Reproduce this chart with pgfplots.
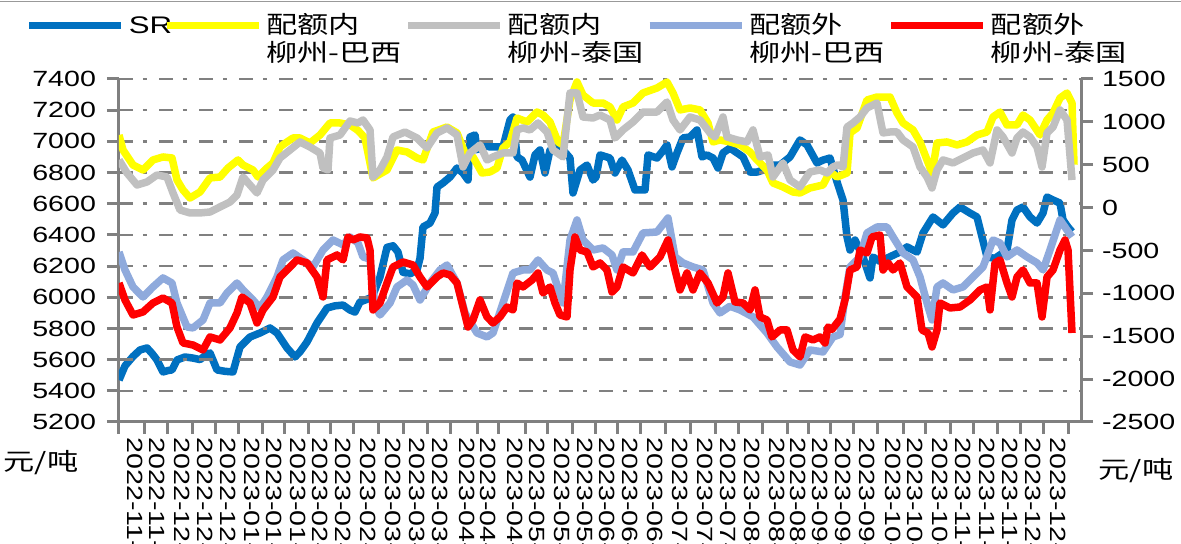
\documentclass[border=0pt]{standalone}
\usepackage{pgfplots}
\pgfplotsset{compat=1.18}
\usepackage{fontspec}
\setmainfont{Liberation Sans}[FakeStretch=1.3]
\newfontfamily\cjk{Noto Sans CJK SC}[FakeStretch=1.3]
\definecolor{srblue}{RGB}{0,112,192}
\definecolor{inyel}{RGB}{255,255,0}
\definecolor{ingray}{RGB}{192,192,192}
\definecolor{outblue}{RGB}{143,170,220}
\definecolor{outred}{RGB}{255,0,0}
\definecolor{axgray}{RGB}{128,128,128}
\pgfplotsset{
  /pgf/number format/assume math mode=true,
  /pgf/number format/1000 sep={},
  common/.style={
    at={(59.5pt,61pt)}, anchor=south west,
    scale only axis, width=481pt, height=171.5pt,
    xmin=119, xmax=1081,
    axis line style={draw=axgray, line width=1.5pt, -},
    tick align=outside, major tick length=6pt,
    tick style={draw=axgray, line width=1.5pt},
    ticklabel style={font=\fontsize{11}{13}\selectfont},
  },
  ser/.style={line width=3.75pt, line join=round},
}
\tikzset{gridln/.style={draw=axgray, line width=1.3pt, dash pattern=on 7pt off 5pt on 2pt off 6pt}}
\newcommand{\twol}[2]{\makebox[69pt][l]{\cjk\begin{tabular}[t]{@{}l@{}}#1\\#2\end{tabular}}}
\begin{document}
\begin{tikzpicture}
% x tick labels (drawn first)
\begin{axis}[common,
  ymin=0, ymax=1, hide y axis,
  axis x line*=bottom, x axis line style={draw=none},
  tick style={draw=none}, major tick length=0pt,
  xtick={109,135,157,182,205,228,252,274,298,320,343,368,393,417,440,467,488,515,537,562,585,607,630,655,680,705,728,752,777,798,820,843,867,893,915,940,963,987,1010,1033,1058},
  xticklabels={2022-11-01,2022-11-11,2022-11-21,2022-12-01,2022-12-11,2022-12-21,2023-01-01,2023-01-11,2023-01-21,2023-02-01,2023-02-11,2023-02-21,2023-03-01,2023-03-11,2023-03-21,2023-04-01,2023-04-11,2023-04-21,2023-05-01,2023-05-11,2023-05-21,2023-06-01,2023-06-11,2023-06-21,2023-07-01,2023-07-11,2023-07-21,2023-08-01,2023-08-11,2023-08-21,2023-09-01,2023-09-11,2023-09-21,2023-10-01,2023-10-11,2023-10-21,2023-11-01,2023-11-11,2023-11-21,2023-12-01,2023-12-11},
  xticklabel style={rotate=-90, anchor=west, inner sep=0pt},
  xticklabel shift=7.5pt,
]
\addplot[draw=none] coordinates {(119,0)};
\end{axis}
% horizontal dash-dot grid behind the data
\foreach \k in {1,...,11}{
  \draw[gridln] (59.5pt,{61pt+\k*15.5909pt}) -- (540.5pt,{61pt+\k*15.5909pt});
}
% left axis: SR
\begin{axis}[common,
  ymin=5200, ymax=7400,
  axis y line*=left, axis x line*=bottom,
  ytick={5200,5400,...,7400},
  xtick={119,145,167,192,215,238,262,284,308,330,353,378,403,427,450,477,498,525,547,572,595,617,640,665,690,715,738,762,787,808,830,853,877,903,925,950,973,997,1020,1043,1068},
  xticklabels={},
  yticklabel shift=2pt,
]
\addplot[ser, srblue] coordinates {
(119,5469)(125,5560)(133,5620)(140,5662)(147,5675)(152,5640)(157,5598)(163,5521)(168,5530)(172,5534)
(177,5598)(185,5617)(193,5610)(200,5600)(205,5625)(210,5643)(217,5534)(225,5525)(233,5521)(240,5681)
(250,5745)(260,5771)(270,5803)(277,5771)(287,5675)(295,5617)(300,5650)(307,5713)(317,5835)(327,5931)
(335,5945)(343,5950)(350,5918)(355,5905)(360,5970)(365,5982)(372,6000)(380,6130)(387,6320)(393,6330)
(398,6290)(403,6160)(410,6150)(417,6175)(420,6250)(423,6451)(430,6476)(435,6540)(437,6707)(443,6733)
(450,6771)(457,6829)(463,6797)(468,6752)(470,7028)(475,7041)(477,6945)(483,6977)(490,6964)(497,6964)
(503,6964)(510,7137)(513,7156)(517,6900)(522,6880)(530,6771)(535,6913)(540,6945)(545,6797)(550,6945)
(557,6964)(563,6945)(570,6893)(573,6669)(580,6816)(587,6848)(593,6752)(596,6770)(600,6913)(610,6893)
(615,6797)(622,6880)(628,6816)(635,6688)(645,6688)(648,6913)(657,6893)(662,6932)(667,6977)(672,6836)
(677,6926)(683,7022)(690,7028)(697,7073)(702,6900)(707,6913)(713,6893)(718,6829)(723,6926)(730,6957)
(737,6926)(743,6900)(750,6803)(757,6803)(763,6816)(770,6848)(780,6848)(790,6900)(800,7009)(807,6977)
(817,6861)(823,6880)(830,6893)(837,6740)(843,6624)(847,6387)(850,6303)(855,6367)(863,6258)(870,6124)
(873,6258)(880,6230)(890,6260)(900,6290)(907,6323)(917,6290)(923,6412)(933,6515)(943,6464)(953,6540)
(960,6579)(970,6540)(977,6515)(982,6387)(987,6258)(995,6250)(1007,6303)(1012,6496)(1017,6560)(1023,6579)
(1030,6515)(1037,6476)(1043,6540)(1047,6643)(1053,6624)(1060,6604)(1063,6496)(1068,6450)(1072,6420)
};
\end{axis}
% right axis: spreads
\begin{axis}[common,
  ymin=-2500, ymax=1500,
  axis y line*=right, axis x line=none,
  ytick={-2500,-2000,...,1500},
  yticklabel shift=1pt,
  clip mode=individual,
  legend columns=5,
  legend image code/.code={\draw[#1] (0pt,4pt) -- (46pt,4pt);},
  legend style={at={(axis description cs:-0.0977,1.1924)}, anchor=north west,
    draw=none, fill=none, inner sep=0pt, font=\fontsize{12}{13.5}\selectfont,
    cells={anchor=base west}, nodes={inner sep=0pt},
    /tikz/every odd column/.append style={column sep=2pt},
    /tikz/every even column/.append style={column sep=0pt}},
]
\pgfplotsinvokeforeach{1,2,3,4,5,6,7,8,9,10,11}{
  \draw[gridln] (axis description cs:0,#1/11) -- (axis description cs:1,#1/11);
}
\addlegendimage{ser, srblue}
\addlegendentry{\makebox[17pt][l]{SR}}
\addplot[ser, inyel] coordinates {
(119,847)(123,672)(133,497)(143,439)(153,556)(163,591)(172,579)(177,322)(183,206)(190,112)
(200,182)(210,346)(220,357)(228,462)(238,556)(243,497)(253,439)(258,357)(267,462)(273,521)
(280,707)(287,766)(293,812)(300,812)(310,754)(320,847)(330,987)(340,987)(350,964)(358,900)
(365,812)(373,346)(387,439)(397,672)(407,649)(417,579)(423,556)(433,882)(447,940)(457,871)
(465,637)(473,591)(482,404)(490,416)(497,462)(503,696)(510,766)(517,1045)(527,999)(537,1115)
(543,1080)(550,999)(558,766)(563,731)(570,1255)(577,1465)(583,1313)(593,1220)(603,1220)(610,1174)
(617,1022)(623,1174)(633,1220)(643,1337)(657,1395)(667,1465)(673,1337)(680,1139)(690,1162)(700,1139)
(708,987)(713,766)(720,789)(730,766)(740,731)(750,649)(757,556)(767,439)(773,287)(783,241)
(793,182)(800,171)(810,229)(823,264)(830,420)(837,357)(847,404)(850,871)(857,929)(867,1255)
(877,1290)(890,1290)(897,1104)(903,987)(913,906)(920,766)(927,556)(932,404)(937,754)(947,766)
(957,731)(967,766)(977,847)(987,882)(993,1057)(1000,1115)(1007,964)(1017,964)(1023,1080)(1030,1022)
(1040,847)(1047,1022)(1053,1104)(1060,1278)(1067,1337)(1072,1220)(1074,500)
};
\addlegendentry{\twol{配额内}{柳州-巴西}}
\addplot[ser, ingray] coordinates {
(119,556)(127,404)(137,264)(147,299)(157,381)(167,357)(173,171)(180,-27)(190,-62)(200,-62)
(210,-51)(220,8)(230,66)(237,147)(243,357)(250,264)(257,171)(263,322)(273,439)(280,579)
(290,672)(300,766)(310,707)(320,637)(323,462)(328,439)(330,812)(340,847)(350,1010)(358,987)
(363,1022)(370,906)(373,357)(380,439)(387,591)(393,824)(405,882)(417,812)(427,696)(437,871)
(447,929)(457,847)(463,474)(470,637)(480,731)(487,556)(493,591)(503,637)(513,637)(517,906)
(523,929)(530,906)(538,987)(547,882)(553,672)(563,591)(570,1337)(577,1337)(583,1057)(593,1045)
(600,1080)(610,1022)(615,812)(623,906)(633,999)(643,1115)(657,1115)(667,1232)(673,1022)(680,906)
(690,1057)(700,1022)(710,871)(715,824)(723,1057)(727,824)(737,789)(747,766)(753,906)(760,591)
(768,614)(773,357)(783,521)(790,322)(800,241)(810,416)(820,439)(827,404)(833,474)(838,500)
(843,474)(847,940)(853,987)(860,1057)(867,1162)(877,1220)(883,871)(890,882)(897,882)(903,789)
(913,707)(920,474)(927,357)(932,229)(937,439)(943,556)(953,521)(963,579)(973,637)(983,672)
(990,521)(997,906)(1003,824)(1012,637)(1017,812)(1023,882)(1030,824)(1037,707)(1042,474)(1047,871)
(1053,940)(1060,1139)(1067,1022)(1072,322)
};
\addlegendentry{\twol{配额内}{柳州-泰国}}
\addplot[ser, outblue] coordinates {
(119,-517)(125,-727)(133,-925)(143,-1042)(153,-925)(163,-820)(172,-879)(177,-1112)(187,-1392)(193,-1403)
(203,-1310)(210,-1112)(220,-1112)(227,-995)(237,-879)(243,-960)(253,-1077)(260,-1170)(267,-1042)(277,-809)
(283,-610)(293,-529)(303,-610)(313,-692)(323,-494)(333,-377)(343,-435)(350,-342)(358,-412)(363,-575)
(370,-600)(375,-1150)(380,-1252)(390,-1112)(397,-925)(407,-844)(413,-902)(420,-1077)(430,-879)(440,-727)
(447,-669)(457,-879)(465,-1228)(477,-1462)(487,-1508)(493,-1462)(503,-1112)(513,-762)(523,-727)(530,-727)
(538,-610)(547,-727)(553,-762)(563,-1112)(570,-377)(577,-144)(583,-377)(593,-494)(603,-470)(612,-552)
(617,-727)(623,-517)(633,-517)(643,-295)(657,-284)(668,-121)(675,-575)(683,-645)(693,-692)(703,-727)
(713,-1112)(720,-1228)(730,-1150)(740,-1193)(753,-1275)(767,-1462)(777,-1625)(790,-1800)(800,-1835)(810,-1660)
(823,-1683)(833,-1508)(840,-1480)(845,-1042)(850,-692)(860,-575)(867,-295)(877,-226)(887,-226)(893,-342)
(903,-529)(913,-610)(920,-809)(927,-1112)(932,-1310)(937,-925)(943,-879)(953,-960)(963,-925)(973,-809)
(983,-692)(993,-377)(1000,-412)(1007,-575)(1017,-494)(1027,-575)(1037,-645)(1043,-727)(1050,-494)(1060,-144)
(1067,-261)(1072,-342)
};
\addlegendentry{\twol{配额外}{柳州-巴西}}
\addplot[ser, outred] coordinates {
(119,-879)(125,-1077)(133,-1252)(143,-1217)(153,-1112)(163,-1054)(172,-1112)(177,-1392)(183,-1578)(193,-1602)
(203,-1660)(210,-1508)(220,-1543)(230,-1403)(237,-1228)(242,-1042)(250,-1112)(257,-1345)(263,-1193)(273,-1042)
(280,-809)(290,-692)(297,-610)(307,-645)(317,-809)(323,-1042)(327,-610)(337,-552)(343,-610)(348,-342)
(353,-377)(360,-342)(367,-354)(370,-494)(373,-1193)(380,-1112)(387,-879)(393,-692)(403,-634)(413,-669)
(420,-809)(427,-925)(437,-809)(443,-762)(450,-785)(457,-879)(463,-1159)(468,-1392)(473,-1310)(480,-1077)
(487,-1275)(493,-1345)(500,-1275)(507,-1159)(513,-1193)(517,-879)(523,-925)(532,-844)(538,-762)(543,-995)
(550,-925)(555,-1112)(560,-1252)(567,-1275)(570,-727)(575,-342)(580,-494)(587,-517)(593,-692)(600,-645)
(607,-727)(612,-984)(617,-925)(623,-692)(633,-762)(642,-552)(650,-692)(660,-575)(668,-377)(675,-727)
(680,-960)(687,-762)(693,-960)(700,-762)(708,-879)(717,-1112)(723,-1042)(728,-762)(735,-1100)(743,-1112)
(750,-1193)(755,-960)(760,-1275)(767,-1310)(772,-1508)(780,-1427)(787,-1427)(793,-1660)(800,-1741)(805,-1508)
(813,-1543)(820,-1508)(825,-1578)(828,-1392)(832,-1420)(840,-1300)(845,-1077)(850,-727)(857,-692)(860,-494)
(867,-529)(872,-342)(880,-319)(883,-727)(888,-645)(893,-727)(900,-645)(907,-925)(917,-1042)(922,-1427)
(928,-1462)(932,-1625)(937,-1427)(940,-1112)(950,-1170)(960,-1159)(970,-1077)(980,-960)(987,-925)(990,-1193)
(995,-645)(1000,-610)(1007,-879)(1012,-1042)(1017,-809)(1023,-727)(1030,-879)(1037,-879)(1042,-1275)(1047,-809)
(1053,-727)(1060,-494)(1065,-377)(1068,-494)(1072,-1462)
};
\addlegendentry{\cjk\begin{tabular}[t]{@{}l@{}}配额外\\柳州-泰国\end{tabular}}
\node[font=\cjk\fontsize{12}{13.5}\selectfont, inner sep=0pt] at (axis description cs:-0.0811,-0.1195) {元/吨};
\node[font=\cjk\fontsize{12}{13.5}\selectfont, inner sep=0pt] at (axis description cs:1.0572,-0.1429) {元/吨};
\end{axis}
\draw[draw=black!40, line width=0.8pt] (0pt,271.2pt) -- (590.5pt,271.2pt);
\pgfresetboundingbox
\useasboundingbox (0pt,0pt) rectangle (590.5pt,272pt);
\end{tikzpicture}
\end{document}
